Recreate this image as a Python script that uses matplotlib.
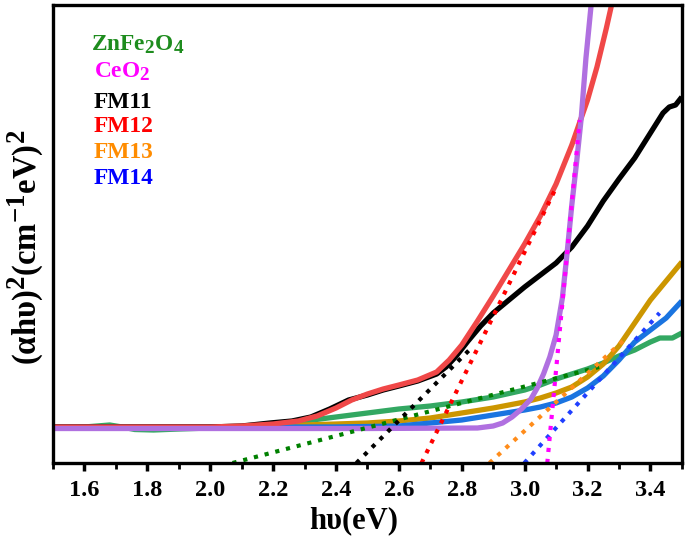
import numpy as np
import matplotlib
matplotlib.use("Agg")
import matplotlib.pyplot as plt
import matplotlib._mathtext as mtext

plt.rcParams['font.family'] = ['Liberation Serif', 'DejaVu Serif']
plt.rcParams['font.weight'] = 'bold'
plt.rcParams['mathtext.fontset'] = 'custom'
plt.rcParams['mathtext.rm'] = 'Liberation Serif:bold'
plt.rcParams['mathtext.bf'] = 'Liberation Serif:bold'
plt.rcParams['mathtext.it'] = 'Liberation Serif:bold'
# bigger super/subscripts, as in the original figure
mtext.SHRINK_FACTOR = 0.82

# photon energy (eV) and (alpha h nu)^2 in arbitrary units
zf_x = [1.5, 1.58, 1.64, 1.68, 1.72, 1.76, 1.82, 1.9, 2.0, 2.1, 2.2, 2.3, 2.4, 2.5, 2.6, 2.7, 2.8,
        2.9, 3.0, 3.05, 3.1, 3.2, 3.25, 3.3, 3.35, 3.4, 3.43, 3.47, 3.5]
zf_y = [0.35, 0.355, 0.37, 0.38, 0.36, 0.335, 0.33, 0.34, 0.35, 0.36, 0.38, 0.42, 0.46, 0.50, 0.54,
        0.57, 0.61, 0.66, 0.73, 0.78, 0.84, 0.94, 1.00, 1.07, 1.13, 1.21, 1.25, 1.25, 1.30]

ce_x = [1.5, 2.0, 2.5, 2.85, 2.90, 2.93, 2.96, 2.99, 3.02, 3.04, 3.06, 3.08, 3.10, 3.12, 3.135,
        3.15, 3.165, 3.18, 3.195, 3.213]
ce_y = [0.345, 0.345, 0.345, 0.35, 0.37, 0.40, 0.46, 0.54, 0.64, 0.75, 0.89, 1.06, 1.28, 1.65, 2.10,
        2.58, 3.00, 3.45, 4.05, 4.63]

fm11_x = [1.5, 2.0, 2.1, 2.19, 2.26, 2.32, 2.38, 2.44, 2.50, 2.55, 2.60, 2.66, 2.72, 2.75, 2.78,
          2.82, 2.86, 2.90, 2.95, 3.00, 3.05, 3.10, 3.15, 3.20, 3.25, 3.30, 3.35, 3.40, 3.44, 3.46,
          3.48, 3.50]
fm11_y = [0.36, 0.36, 0.37, 0.40, 0.42, 0.46, 0.54, 0.63, 0.68, 0.73, 0.77, 0.82, 0.89, 0.96, 1.06,
          1.22, 1.37, 1.50, 1.63, 1.76, 1.88, 2.00, 2.16, 2.37, 2.62, 2.84, 3.05, 3.30, 3.50, 3.56,
          3.58, 3.66]

fm12_x = [1.5, 2.0, 2.1, 2.2, 2.28, 2.34, 2.40, 2.45, 2.50, 2.55, 2.60, 2.66, 2.72, 2.76, 2.80,
          2.85, 2.90, 2.95, 3.00, 3.05, 3.10, 3.15, 3.20, 3.23, 3.26, 3.28]
fm12_y = [0.36, 0.36, 0.37, 0.39, 0.42, 0.47, 0.55, 0.63, 0.69, 0.74, 0.78, 0.83, 0.91, 1.03, 1.18,
          1.42, 1.67, 1.93, 2.19, 2.47, 2.79, 3.18, 3.63, 3.96, 4.35, 4.63]

fm13_x = [1.5, 2.2, 2.3, 2.4, 2.5, 2.6, 2.7, 2.8, 2.9, 3.0, 3.05, 3.1, 3.15, 3.2, 3.25, 3.3, 3.35,
          3.4, 3.45, 3.5]
fm13_y = [0.36, 0.365, 0.38, 0.39, 0.40, 0.42, 0.45, 0.50, 0.55, 0.61, 0.65, 0.70, 0.76, 0.86, 0.99,
          1.17, 1.40, 1.63, 1.82, 2.01]

fm14_x = [1.5, 2.4, 2.6, 2.7, 2.8, 2.9, 3.0, 3.05, 3.1, 3.15, 3.2, 3.25, 3.3, 3.35, 3.4, 3.45, 3.5]
fm14_y = [0.36, 0.36, 0.37, 0.40, 0.43, 0.48, 0.53, 0.56, 0.60, 0.66, 0.75, 0.87, 1.03, 1.21, 1.33,
          1.45, 1.62]

# tangent (Tauc) lines: start on the energy axis, end point
zf_fit = ([2.071, 3.237], [0.0, 0.96])
ce_fit = ([3.072, 3.175], [0.0, 3.43])
fm11_fit = ([2.465, 2.824], [0.0, 1.13])
fm12_fit = ([2.672, 3.101], [0.0, 2.76])
fm13_fit = ([2.888, 3.323], [0.0, 1.25])
fm14_fit = ([2.999, 3.429], [0.0, 1.50])

labels = [r'ZnFe$_{2}$O$_{4}$', r'CeO$_{2}$', 'FM11', 'FM12', 'FM13', 'FM14']
label_colors = ['#1e8c1e', '#ff00ff', '#000000', '#ff0000', '#ff8c00', '#0000ff']

fig = plt.figure(figsize=(6.85, 5.39), dpi=100)
ax = fig.add_axes([0.0774, 0.141, 0.918, 0.8497])

lw = 3.8
kw = dict(lw=lw, solid_joinstyle='round', solid_capstyle='butt')
ax.plot(zf_x, zf_y, color='#33a862', **kw)
ax.plot(fm13_x, fm13_y, color='#cc9600', **kw)
ax.plot(fm14_x, fm14_y, color='#1a74e0', **kw)
ax.plot(fm11_x, fm11_y, color='#000000', **kw)
ax.plot(fm12_x, fm12_y, color='#f04848', **kw)
ax.plot(ce_x, ce_y, color='#b070e0', **kw)

dl = 3.0
ax.plot(*zf_fit, color='#008000', lw=dl, ls=':')
ax.plot(*fm11_fit, color='#000000', lw=dl, ls=':')
ax.plot(*fm12_fit, color='#ff0000', lw=dl, ls=':')
ax.plot(*fm13_fit, color='#ff8c1a', lw=dl, ls=':')
ax.plot(*fm14_fit, color='#1f3fff', lw=dl, ls=':')
ax.plot(*ce_fit, color='#ff00ff', lw=dl, ls=':')

ax.set_xlim(1.5, 3.5)
ax.set_ylim(0, 4.58)
ax.set_xticks(np.arange(1.6, 3.41, 0.2))
ax.set_xticklabels(['%.1f' % v for v in np.arange(1.6, 3.41, 0.2)])
ax.set_xticks(np.arange(1.5, 3.51, 0.1), minor=True)
ax.set_yticks([])
ax.tick_params(axis='x', which='major', direction='out', length=6, width=2.5, labelsize=17.5, pad=6)
ax.tick_params(axis='x', which='minor', direction='out', length=4, width=2)
for lab in ax.get_xticklabels():
    lab.set_fontweight('bold')
for sp in ax.spines.values():
    sp.set_linewidth(2.4)

ax.set_xlabel('h\u03c5(eV)', fontsize=22, fontweight='bold')
ax.xaxis.set_label_coords(0.478, -0.095)
ax.set_ylabel('(\u03b1h\u03c5)$^{2}$(cm$^{-1}$eV)$^{2}$', fontsize=23.5, fontweight='bold')
ax.yaxis.set_label_coords(-0.012, 0.47)

ypos = [45, 72, 102, 126, 153, 178]
xpos = [91, 94, 94, 94, 94, 94]
for t, c, xp, yp in zip(labels, label_colors, xpos, ypos):
    fig.text(xp / 685, 1 - yp / 539, t, color=c, fontsize=16.8, fontweight='bold', va='center', ha='left')

fig.savefig('out.png', dpi=100)
